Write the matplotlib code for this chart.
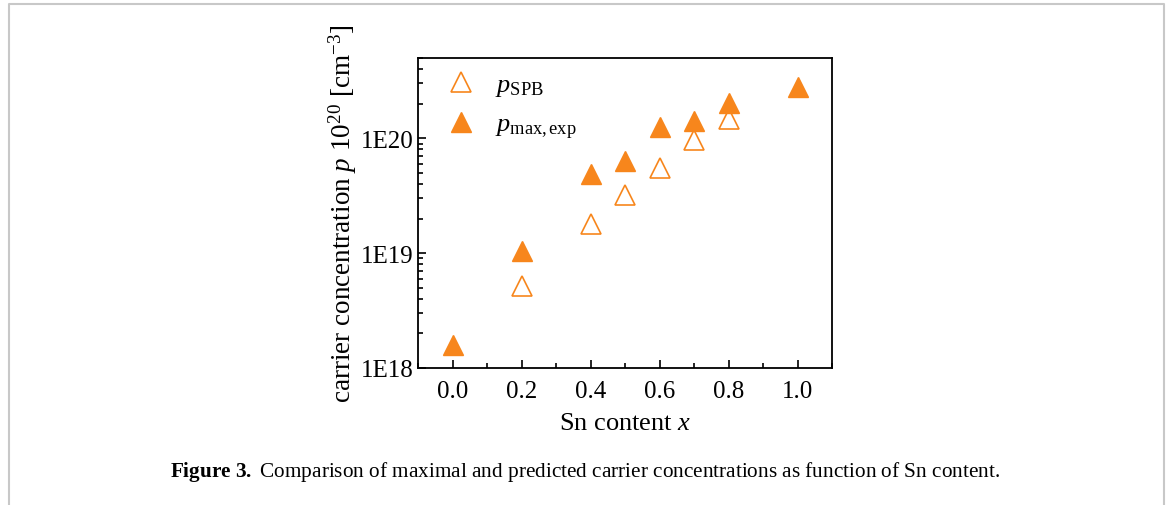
import matplotlib.pyplot as plt
from matplotlib.ticker import MultipleLocator, LogLocator, FixedLocator, FixedFormatter
from matplotlib.lines import Line2D

# Sn content and carrier concentrations (cm^-3)
x_spb = [0.2, 0.4, 0.5, 0.6, 0.7, 0.8]
p_spb = [5.2e18, 1.8e19, 3.2e19, 5.5e19, 9.7e19, 1.47e20]
x_exp = [0.0, 0.2, 0.4, 0.5, 0.6, 0.7, 0.8, 1.0]
p_exp = [1.58e18, 1.04e19, 4.9e19, 6.3e19, 1.26e20, 1.41e20, 2.04e20, 2.8e20]
y_ticks = [1e18, 1e19, 1e20]
y_labels = ['1E18', '1E19', '1E20']

orange = '#F7861C'
plt.rcParams['font.family'] = ['Liberation Serif', 'DejaVu Serif']
plt.rcParams['mathtext.fontset'] = 'custom'
plt.rcParams['mathtext.rm'] = 'Liberation Serif'
plt.rcParams['mathtext.it'] = 'Liberation Serif:italic'
plt.rcParams['mathtext.bf'] = 'Liberation Serif:bold'

fig = plt.figure(figsize=(11.68, 5.06), dpi=100)
ax = fig.add_axes([418 / 1168, 1 - 369 / 506, 414 / 1168, 310 / 506])

ax.plot(x_spb, p_spb, ls='none', marker='^', ms=14, mfc='none', mec=orange,
        mew=1.2, label=r'$p_{\mathrm{SPB}}$')
ax.plot(x_exp, p_exp, ls='none', marker='^', ms=14, color=orange,
        label=r'$p_{\mathrm{max,exp}}$')

ax.set_yscale('log')
ax.set_xlim(-0.1, 1.1)
ax.set_ylim(1e18, 5e20)
ax.xaxis.set_minor_locator(MultipleLocator(0.1))
ax.set_xticks([0.0, 0.2, 0.4, 0.6, 0.8, 1.0])
ax.set_xticklabels(['0.0', '0.2', '0.4', '0.6', '0.8', '1.0'])
ax.yaxis.set_major_locator(FixedLocator(y_ticks))
ax.yaxis.set_major_formatter(FixedFormatter(y_labels))
ax.yaxis.set_minor_locator(LogLocator(base=10, subs=range(2, 10)))
ax.yaxis.set_minor_formatter(plt.NullFormatter())
ax.tick_params(which='both', direction='in', labelsize=18, width=1.2)
ax.tick_params(which='major', length=6)
ax.tick_params(which='minor', length=3.5)
ax.tick_params(axis='x', pad=9)
for s in ax.spines.values():
    s.set_linewidth(1.3)

ax.set_xlabel(r'Sn content $\mathit{x}$', fontsize=19, labelpad=7)
ax.set_ylabel(r'carrier concentration $\mathit{p}$ 10$^{20}$ [cm$^{-3}$]',
              fontsize=19.5, labelpad=1)

ax.legend(loc='upper left', frameon=False, fontsize=19, handletextpad=0.2,
          borderaxespad=0.1, labelspacing=0.55, handlelength=2.15,
          borderpad=0.45)

fig.text(585 / 1168, 1 - 472 / 506,
         r'$\bf{Figure\ 3.}$ Comparison of maximal and predicted carrier '
         'concentrations as function of Sn content.',
         ha='center', va='center', fontsize=15.3)

# page frame
fig.add_artist(Line2D([9 / 1168, 9 / 1168, 1164 / 1168, 1164 / 1168],
                      [0, 1 - 5 / 506, 1 - 5 / 506, 0],
                      transform=fig.transFigure, color='#c8c8c8', lw=1.5))

fig.savefig('out.png', dpi=100)
